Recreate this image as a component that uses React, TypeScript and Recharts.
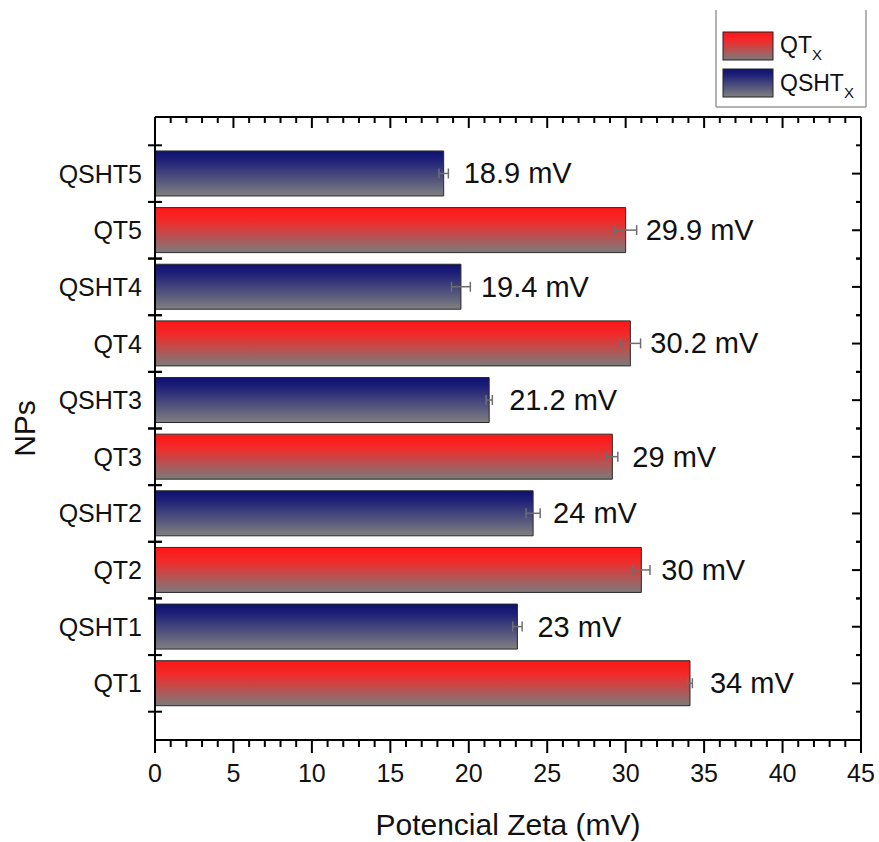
import React from 'react';
import { BarChart, Bar, XAxis, YAxis, Cell, ErrorBar, LabelList, Legend } from 'recharts';

const categories = ['QSHT5', 'QT5', 'QSHT4', 'QT4', 'QSHT3', 'QT3', 'QSHT2', 'QT2', 'QSHT1', 'QT1'];
const groups = ['QSHT', 'QT', 'QSHT', 'QT', 'QSHT', 'QT', 'QSHT', 'QT', 'QSHT', 'QT'];
const values = [18.4, 30.0, 19.5, 30.3, 21.3, 29.15, 24.1, 31.0, 23.1, 34.1];
const errors = [0.3, 0.7, 0.6, 0.65, 0.2, 0.35, 0.45, 0.55, 0.3, 0.15];
const valueLabels = ['18.9 mV', '29.9 mV', '19.4 mV', '30.2 mV', '21.2 mV', '29 mV', '24 mV', '30 mV', '23 mV', '34 mV'];
const xTicks = [0, 1, 2, 3, 4, 5, 6, 7, 8, 9, 10, 11, 12, 13, 14, 15, 16, 17, 18, 19, 20, 21, 22, 23, 24, 25, 26, 27, 28, 29, 30, 31, 32, 33, 34, 35, 36, 37, 38, 39, 40, 41, 42, 43, 44, 45];
const xMajorTicks = [0, 5, 10, 15, 20, 25, 30, 35, 40, 45];
const legendItems = [
  { key: 'QT', label: 'QT', sub: 'X' },
  { key: 'QSHT', label: 'QSHT', sub: 'X' },
];

const data = categories.map((name, i) => ({
  name,
  group: groups[i],
  value: values[i],
  err: errors[i],
  label: valueLabels[i],
}));

const FONT = '"Liberation Sans", Arial, Helvetica, sans-serif';

const BottomTick = (props: any) => {
  const { x, y, payload } = props;
  const major = xMajorTicks.includes(payload.value);
  return (
    <g>
      <line x1={x} x2={x} y1={y} y2={y + (major ? 13 : 7)} stroke="#000" strokeWidth={2} />
      {major && (
        <text x={x} y={y + 42} textAnchor="middle" fontSize={25} fill="#111" fontFamily={FONT}>
          {payload.value}
        </text>
      )}
    </g>
  );
};

const TopTick = (props: any) => {
  const { x, y, payload } = props;
  const major = xMajorTicks.includes(payload.value);
  return <line x1={x} x2={x} y1={y} y2={y + (major ? 11 : 6)} stroke="#000" strokeWidth={2} />;
};

const LEFT_MARGIN = 13;
const LeftTick = (props: any) => {
  const { x, y, payload } = props;
  const off = payload && typeof payload.offset === 'number' ? payload.offset : 28.3;
  const ax = x + LEFT_MARGIN;
  return (
    <g>
      <line x1={ax - 7} x2={ax + 7} y1={y - off} y2={y - off} stroke="#000" strokeWidth={2} />
      <line x1={ax - 7} x2={ax + 7} y1={y + off} y2={y + off} stroke="#000" strokeWidth={2} />
      <text x={x} y={y} textAnchor="end" dominantBaseline="central" fontSize={25} fill="#111" fontFamily={FONT}>
        {payload.value}
      </text>
    </g>
  );
};

const RightTick = (props: any) => {
  const { x, y, payload } = props;
  const off = payload && typeof payload.offset === 'number' ? payload.offset : 28.3;
  return (
    <g>
      <line x1={x - 9} x2={x} y1={y} y2={y} stroke="#000" strokeWidth={2} />
      <line x1={x - 5} x2={x} y1={y - off} y2={y - off} stroke="#000" strokeWidth={2} />
      <line x1={x - 5} x2={x} y1={y + off} y2={y + off} stroke="#000" strokeWidth={2} />
    </g>
  );
};

const ValueLabel = (props: any) => {
  const { x, y, width, height, index } = props;
  return (
    <text
      x={x + width + 20}
      y={y + height / 2}
      dominantBaseline="central"
      fontSize={29}
      fill="#111"
      fontFamily={FONT}
    >
      {valueLabels[index]}
    </text>
  );
};

const LegendBox = () => (
  <svg width={152} height={98} style={{ display: 'block' }}>
    <line x1={1} x2={1} y1={0} y2={97} stroke="#9a9a9a" strokeWidth={1.5} />
    <line x1={151} x2={151} y1={0} y2={97} stroke="#9a9a9a" strokeWidth={1.5} />
    <line x1={1} x2={151} y1={97} y2={97} stroke="#9a9a9a" strokeWidth={1.5} />
    {legendItems.map((it, i) => (
      <g key={it.key}>
        <rect x={8} y={22 + i * 37} width={50} height={28} fill={`url(#lg-${it.key})`} stroke="#222" strokeWidth={1} />
        <text x={65} y={43 + i * 38} fontSize={23} fill="#111" fontFamily={FONT}>
          {it.label}
          <tspan fontSize={15} dy={7}>{it.sub}</tspan>
        </text>
      </g>
    ))}
    <defs>
      <linearGradient id="lg-QT" x1="0" y1="0" x2="0" y2="1">
        <stop offset="0%" stopColor="#ff1616" />
        <stop offset="30%" stopColor="#f22a2a" />
        <stop offset="100%" stopColor="#7b7b7b" />
      </linearGradient>
      <linearGradient id="lg-QSHT" x1="0" y1="0" x2="0" y2="1">
        <stop offset="0%" stopColor="#0f1170" />
        <stop offset="20%" stopColor="#1d1f78" />
        <stop offset="100%" stopColor="#808080" />
      </linearGradient>
    </defs>
  </svg>
);

export default function App() {
  return (
    <div style={{ position: 'absolute', left: 0, top: 0, width: 879, height: 842, background: '#fff' }}>
      <BarChart
        width={879}
        height={842}
        data={data}
        layout="vertical"
        margin={{ top: 0, right: 0, bottom: 0, left: 0 }}
        barCategoryGap="10%"
        style={{ fontFamily: FONT }}
      >
        <defs>
          <linearGradient id="grad-QT" x1="0" y1="0" x2="0" y2="1">
            <stop offset="0%" stopColor="#ff1616" />
            <stop offset="30%" stopColor="#f22a2a" />
            <stop offset="100%" stopColor="#7b7b7b" />
          </linearGradient>
          <linearGradient id="grad-QSHT" x1="0" y1="0" x2="0" y2="1">
            <stop offset="0%" stopColor="#0f1170" />
            <stop offset="20%" stopColor="#1d1f78" />
            <stop offset="100%" stopColor="#808080" />
          </linearGradient>
        </defs>
        <XAxis
          xAxisId="bottom"
          type="number"
          orientation="bottom"
          domain={[0, 45]}
          ticks={xTicks}
          interval={0}
          allowDataOverflow
          height={102}
          tickSize={0}
          tickMargin={0}
          tickLine={false}
          axisLine={{ stroke: '#000', strokeWidth: 2 }}
          tick={<BottomTick />}
          label={{ value: 'Potencial Zeta (mV)', position: 'insideBottom', offset: 7, fontSize: 30, fill: '#111' }}
        />
        <XAxis
          xAxisId="top"
          type="number"
          orientation="top"
          domain={[0, 45]}
          ticks={xTicks}
          interval={0}
          allowDataOverflow
          height={117}
          tickSize={0}
          tickMargin={0}
          tickLine={false}
          axisLine={{ stroke: '#000', strokeWidth: 2 }}
          tick={<TopTick />}
        />
        <YAxis
          yAxisId="left"
          type="category"
          dataKey="name"
          orientation="left"
          width={155}
          interval={0}
          padding={{ top: 28.3, bottom: 28.3 }}
          tickSize={0}
          tickMargin={LEFT_MARGIN}
          tickLine={false}
          axisLine={{ stroke: '#000', strokeWidth: 2 }}
          tick={<LeftTick />}
          label={{
            content: (p: any) => {
              const vb = p.viewBox || { x: 0, y: 117, width: 155, height: 623 };
              const cx = vb.x + 35;
              const cy = vb.y + vb.height / 2;
              return (
                <text
                  x={cx}
                  y={cy}
                  transform={`rotate(-90 ${cx} ${cy})`}
                  textAnchor="middle"
                  fontSize={30}
                  fill="#111"
                  fontFamily={FONT}
                >
                  NPs
                </text>
              );
            },
          }}
        />
        <YAxis
          yAxisId="right"
          type="category"
          dataKey="name"
          orientation="right"
          width={18}
          interval={0}
          padding={{ top: 28.3, bottom: 28.3 }}
          tickSize={0}
          tickMargin={0}
          tickLine={false}
          axisLine={{ stroke: '#000', strokeWidth: 2 }}
          tick={<RightTick />}
        />
        <Legend
          layout="horizontal"
          verticalAlign="middle"
          align="center"
          wrapperStyle={{ position: 'absolute', left: 715, top: 10, width: 152, height: 98 }}
          content={() => <LegendBox />}
        />
        <Bar
          dataKey="value"
          xAxisId="bottom"
          yAxisId="left"
          stroke="#2a2a2a"
          strokeWidth={1}
          isAnimationActive={false}
        >
          {data.map((d) => (
            <Cell key={d.name} fill={`url(#grad-${d.group})`} />
          ))}
          <ErrorBar dataKey="err" direction="x" width={5} stroke="#6e6e6e" strokeWidth={1.5} />
          <LabelList dataKey="label" content={<ValueLabel />} />
        </Bar>
      </BarChart>
    </div>
  );
}
